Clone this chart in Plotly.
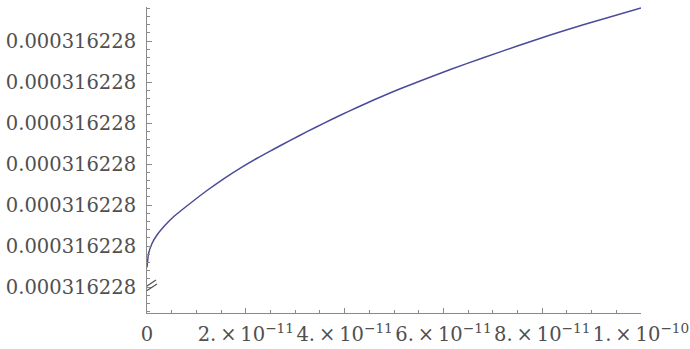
import numpy as np
import plotly.graph_objects as go

# Curve samples: x position and height above the axis origin (in units of 1e-13)
curve_x = [0.0, 0.32e-12, 1.01e-12, 2.02e-12, 3.70e-12, 5.38e-12, 8.77e-12, 12.15e-12,
           15.51e-12, 18.89e-12, 22.27e-12, 25.63e-12, 29.01e-12, 32.39e-12, 35.75e-12,
           39.13e-12, 42.51e-12, 45.87e-12, 51.27e-12, 61.40e-12, 68.08e-12, 74.96e-12,
           81.64e-12, 88.32e-12, 100.0e-12]
curve_dy = [2.38, 4.09, 5.30, 6.34, 7.56, 8.57, 10.21, 11.77,
            13.20, 14.51, 15.70, 16.80, 17.89, 18.94, 19.96,
            20.95, 21.89, 22.80, 24.18, 26.52, 27.96, 29.39,
            30.73, 31.98, 34.02]

# Axis origin sits at the break mark on the vertical axis
Y_ORIGIN = 0.000316227766
Y_UNIT = 1e-13
Y_STEP = 5e-13

x_tick_values = [0, 2e-11, 4e-11, 6e-11, 8e-11, 1e-10]
x_tick_labels = ["0",
                 "2.\u2009×\u200910<sup>−11</sup>", "4.\u2009×\u200910<sup>−11</sup>",
                 "6.\u2009×\u200910<sup>−11</sup>", "8.\u2009×\u200910<sup>−11</sup>",
                 "1.\u2009×\u200910<sup>−10</sup>"]
y_tick_steps = [0, 1, 2, 3, 4, 5, 6]
y_tick_labels = ["0.000316228"] * 7

curve_y = [Y_ORIGIN + d * Y_UNIT for d in curve_dy]
y_tick_values = [Y_ORIGIN + k * Y_STEP for k in y_tick_steps]

y_range = [Y_ORIGIN - 3.171 * Y_UNIT, Y_ORIGIN + 34.146 * Y_UNIT]
x_range = [0, 1e-10]

AXIS = "#8a8a8a"
LABEL = "#505050"
FONT = dict(family="DejaVu Serif", size=19.5, color=LABEL)

fig = go.Figure()
fig.add_trace(go.Scatter(
    x=curve_x, y=curve_y, mode="lines",
    line=dict(color="#4b4b9b", width=1.5, shape="spline", smoothing=0.5),
    hoverinfo="skip", showlegend=False,
))

fig.update_xaxes(
    range=x_range, showgrid=False, zeroline=False,
    showline=True, linecolor=AXIS, linewidth=1,
    ticks="inside", ticklen=5, tickcolor=AXIS,
    tickmode="array", tickvals=x_tick_values, ticktext=x_tick_labels,
    tickfont=FONT, ticklabelstandoff=4, tickangle=0, automargin=False,
    minor=dict(tickmode="array", tickvals=list(np.arange(0, 1.0001e-10, 0.5e-11)),
               ticks="inside", ticklen=3, tickcolor=AXIS),
)
fig.update_yaxes(
    range=y_range, showgrid=False, zeroline=False,
    showline=True, linecolor=AXIS, linewidth=1,
    ticks="inside", ticklen=5, tickcolor=AXIS,
    tickmode="array", tickvals=y_tick_values, ticktext=y_tick_labels,
    tickfont=FONT, ticklabelstandoff=6, automargin=False,
    minor=dict(tickmode="array",
               tickvals=[Y_ORIGIN + k * Y_STEP / 5 for k in range(-3, 35)],
               ticks="inside", ticklen=3, tickcolor=AXIS),
)

# Axis break symbol on the vertical axis
for (ax0, ay0, ax1, ay1) in [(-10, -10, 10, 3), (-9, -5, 9, 7)]:
    fig.add_shape(
        type="line", xref="x", yref="y",
        xsizemode="pixel", ysizemode="pixel",
        xanchor=0, yanchor=Y_ORIGIN,
        x0=ax0, x1=ax1, y0=ay0, y1=ay1,
        line=dict(color="#555555", width=1.2),
    )

fig.update_layout(
    width=690, height=349,
    margin=dict(l=147, r=49, t=7, b=36),
    paper_bgcolor="white", plot_bgcolor="white",
)

fig.write_html("out.html")
